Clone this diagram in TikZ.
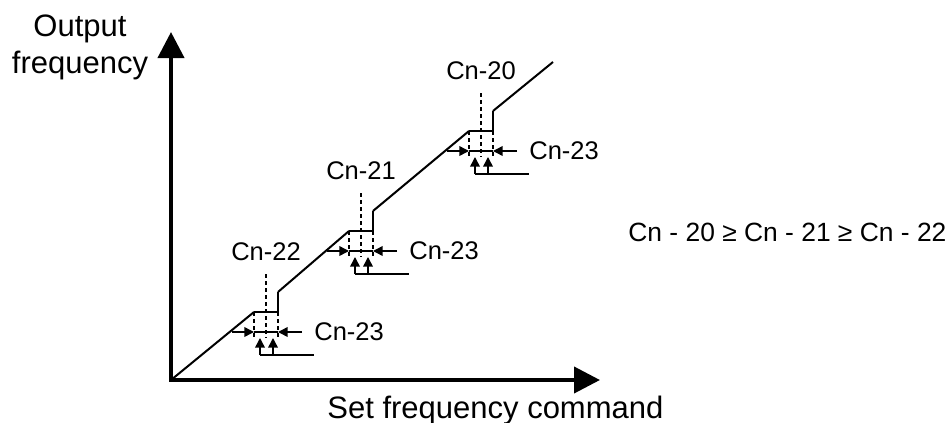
\documentclass[tikz,border=0pt]{standalone}
\usepackage{fontspec}
\setmainfont{Liberation Sans}
\usetikzlibrary{arrows.meta, calc}

\begin{document}
\begin{tikzpicture}[x=0.5pt, y=-0.5pt,
        lbl/.style={font=\fontsize{12.75}{15}\selectfont, inner sep=0pt},
        axlbl/.style={font=\fontsize{15.5}{18.5}\selectfont, align=center, inner sep=0pt},
        axis/.style={line width=2pt, {Triangle[length=13pt, width=13pt]}-{Triangle[length=13pt, width=13pt]}},
        curve/.style={line width=1pt},
        dsh/.style={line width=0.75pt, dash pattern=on 2pt off 1.5pt},
        arr/.style={line width=0.75pt, -{Triangle[length=4.8pt, width=4.8pt]}}]
        \useasboundingbox (0,0) rectangle (949,423);
        \coordinate (O) at (171,380); \coordinate (ytop) at (171,32); \coordinate (xend) at (600,380);
        \draw[axis] (ytop) -- (O) -- (xend);
        \node[axlbl, anchor=base] (ylab) at (80,73) {Output\\frequency};
        \node[axlbl, anchor=base west] (xlab) at (327,418) {Set frequency command};
        % steps: flat start x / flat level y / threshold label / index
        \foreach \xa/\yf/\name/\i in {254/312/Cn-22/1, 349/231/Cn-21/2, 469/131/Cn-20/3} {
          \coordinate (f\i) at (\xa,\yf); \coordinate (g\i) at (\xa+24,\yf); \coordinate (j\i) at (\xa+24,\yf-20);
          \draw[curve] (f\i) -- (g\i) -- (j\i);
          \draw[dsh] (f\i) -- ++(0,26); \draw[dsh] (g\i) -- ++(0,26);
          \draw[dsh] (\xa+12,\yf-38) -- (\xa+12,\yf+26);
          \node[lbl] (top\i) at (\xa+12,\yf-60) {\name};
          \node[lbl, anchor=west] (w\i) at (\xa+60,\yf+20) {Cn-23};
          \draw[arr] (\xa-22,\yf+20) -- (\xa,\yf+20); \draw[line width=0.75pt] (\xa,\yf+20) -- (\xa+24,\yf+20);
          \draw[arr] (\xa+48,\yf+20) -- (\xa+24,\yf+20);
          \draw[arr] (\xa+6,\yf+43) -- (\xa+6,\yf+26); \draw[arr] (\xa+19,\yf+43) -- (\xa+19,\yf+26);
          \draw[line width=0.75pt] (\xa+6,\yf+43) -- (\xa+60,\yf+43);
        }
        \coordinate (lend) at (553,62);
        \draw[curve] (O) -- (f1); \draw[curve] (j1) -- (f2); \draw[curve] (j2) -- (f3); \draw[curve] (j3) -- (lend);
        \node[lbl, font=\fontsize{13.2}{15}\selectfont, anchor=base west] (rel) at (628,241) {Cn - 20 ≥ Cn - 21 ≥ Cn - 22};
      \end{tikzpicture}
\end{document}
